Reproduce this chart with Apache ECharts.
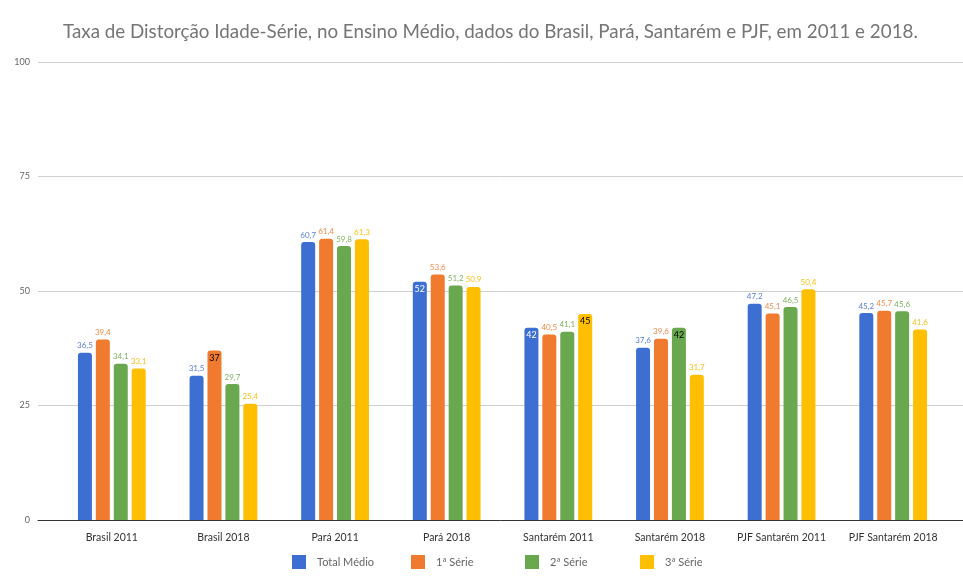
<!DOCTYPE html>
<html><head><meta charset="utf-8">
<script src="https://cdn.jsdelivr.net/npm/echarts@6/dist/echarts.min.js"></script>
<style>html,body{margin:0;padding:0;background:#fff}#c{width:963px;height:579px}</style>
</head><body><div id="c"></div>
<script>
const categories = ['Brasil 2011','Brasil 2018','Pará 2011','Pará 2018','Santarém 2011','Santarém 2018','PJF Santarém 2011','PJF Santarém 2018'];
const seriesNames = ['Total Médio','1ª Série','2ª Série','3ª Série'];
const totalMedio = [36.5, 31.5, 60.7, 52, 42, 37.6, 47.2, 45.2];
const serie1 = [39.4, 37, 61.4, 53.6, 40.5, 39.6, 45.1, 45.7];
const serie2 = [34.1, 29.7, 59.8, 51.2, 41.1, 42, 46.5, 45.6];
const serie3 = [33.1, 25.4, 61.3, 50.9, 45, 31.7, 50.4, 41.6];
const yTicks = [0, 25, 50, 75, 100];
// labels drawn inside the bar: [seriesIndex, categoryIndex, textColor]
const insideLabels = [[1,1,'#000'],[0,3,'#fff'],[0,4,'#fff'],[3,4,'#000'],[2,5,'#000']];

const colors = ['#3d6fd2','#f07b2f','#6aa84f','#fdbf00'];
const labelColors = ['#5b7fd6','#f08a4b','#7fb15f','#f4c21a'];
const legendLefts = [287, 406, 520, 635];
const font = 'Lato, "Open Sans", sans-serif';
const fmt = v => String(v).replace('.', ',');

const allData = [totalMedio, serie1, serie2, serie3];
const series = allData.map((arr, si) => ({
  name: seriesNames[si],
  type: 'bar',
  xAxisIndex: 0, yAxisIndex: 0,
  barWidth: 14,
  barGap: '28%',
  itemStyle: { color: colors[si], borderRadius: [3,3,0,0] },
  label: { show: true, position: 'top', distance: 3, color: labelColors[si], fontSize: 8, fontFamily: font,
           formatter: p => fmt(p.value) },
  data: arr.map((v, ci) => {
    const ins = insideLabels.find(x => x[0] === si && x[1] === ci);
    if (ins) return { value: v, label: { position: 'insideTop', distance: 3, color: ins[2], fontSize: 9 } };
    return v;
  })
}));

const legends = seriesNames.map((n, i) => ({
  data: [n], bottom: 5, left: legendLefts[i], itemWidth: 14, itemHeight: 14, icon: 'rect',
  textStyle: { color: '#666', fontSize: 11, fontFamily: font, padding: [0,0,0,6] }
}));

const chart = echarts.init(document.getElementById('c'), null, { renderer: 'canvas' });
chart.setOption({
  animation: false,
  backgroundColor: '#fff',
  title: { text: 'Taxa de Distorção Idade-Série, no Ensino Médio, dados do Brasil, Pará, Santarém e PJF, em 2011 e 2018.',
           left: 58, top: 17, textStyle: { color: '#757575', fontSize: 18.8, fontWeight: 'normal', fontFamily: font } },
  legend: legends,
  grid: [
    { left: 56, right: 14, top: 62, bottom: 59 },
    { left: 38, right: 0, top: 62, bottom: 59 }
  ],
  xAxis: [
    { type: 'category', data: categories, gridIndex: 0,
      axisLine: { show: false }, axisTick: { show: false },
      axisLabel: { color: '#333', fontSize: 10.5, fontFamily: font, margin: 12, interval: 0 } },
    { type: 'value', gridIndex: 1, min: 0, max: 1, show: true,
      axisLine: { show: true, lineStyle: { color: '#333', width: 1 } }, axisTick: { show: false },
      axisLabel: { show: false }, splitLine: { show: false } }
  ],
  yAxis: [
    { type: 'value', gridIndex: 0, min: yTicks[0], max: yTicks[yTicks.length-1], interval: 25,
      axisLine: { show: false }, axisTick: { show: false }, axisLabel: { show: false }, splitLine: { show: false } },
    { type: 'value', gridIndex: 1, min: yTicks[0], max: yTicks[yTicks.length-1], interval: 25,
      axisLine: { show: false }, axisTick: { show: false },
      axisLabel: { color: '#666', fontSize: 9, fontFamily: font, margin: 8 },
      splitLine: { lineStyle: { color: '#d0d0d0' } } }
  ],
  series: series
});
</script></body></html>
